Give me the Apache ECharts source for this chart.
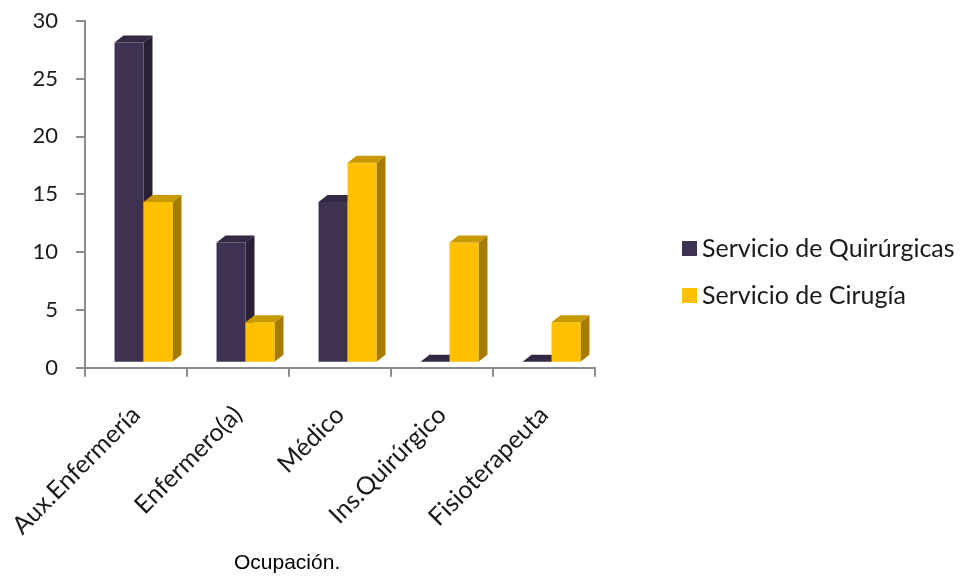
<!DOCTYPE html>
<html>
<head>
<meta charset="utf-8">
<script src="https://cdn.jsdelivr.net/npm/echarts@6/dist/echarts.min.js"></script>
<style>
  html, body { margin: 0; padding: 0; background: #ffffff; }
  #chart { width: 962px; height: 577px; }
</style>
</head>
<body>
<div id="chart"></div>
<script>
// Occupation categories and the share (%) per service
const categories = ['Aux.Enfermería', 'Enfermero(a)', 'Médico', 'Ins.Quirúrgico', 'Fisioterapeuta'];
const quirurgicas = [27.6, 10.3, 13.8, 0, 0];
const cirugia = [13.8, 3.4, 17.2, 10.3, 3.4];
const seriesNames = ['Servicio de Quirúrgicas', 'Servicio de Cirugía'];
const yTicks = { min: 0, max: 30, interval: 5 };

// Face colours for the pseudo-3D columns: front, side, top
const palettes = [
  { front: '#3f3151', side: '#2a2036', top: '#342943' },
  { front: '#ffc000', side: '#a67c00', top: '#c99a00' }
];

const DEPTH_X = 9;   // horizontal depth of a column
const DEPTH_Y = 7;   // vertical depth of a column
const LIFT = 6;      // columns stand slightly above the axis line
const SHIFT = 7.5;   // pair offset inside the category band
const WIDTH_FRAC = 0.284;

function columnRenderer(seriesIdx) {
  return function (params, api) {
    const i = api.value(0);
    const v = api.value(1);
    const base = api.coord([i, 0]);
    const top = api.coord([i, v]);
    const w = api.size([1, 0])[0] * WIDTH_FRAC;
    const cx = base[0] + SHIFT;
    const x0 = seriesIdx === 0 ? cx - w : cx;
    const x1 = x0 + w;
    const yb = base[1] - LIFT;
    const yt = top[1] - LIFT;
    const pal = palettes[seriesIdx];
    return {
      type: 'group',
      children: [
        {
          type: 'polygon',
          shape: { points: [[x1, yt], [x1 + DEPTH_X, yt - DEPTH_Y], [x1 + DEPTH_X, yb - DEPTH_Y], [x1, yb]] },
          style: { fill: pal.side }
        },
        {
          type: 'rect',
          shape: { x: x0, y: yt, width: w, height: yb - yt },
          style: { fill: pal.front }
        },
        {
          type: 'polygon',
          shape: { points: [[x0, yt], [x0 + DEPTH_X, yt - DEPTH_Y], [x1 + DEPTH_X, yt - DEPTH_Y], [x1, yt]] },
          style: { fill: pal.top }
        }
      ]
    };
  };
}

const chart = echarts.init(document.getElementById('chart'), null, { renderer: 'canvas' });

chart.setOption({
  animation: false,
  backgroundColor: '#ffffff',
  textStyle: { fontFamily: 'Lato' },
  title: {
    text: 'Ocupación.',
    left: 234,
    top: 553,
    padding: 0,
    textStyle: { fontFamily: 'Liberation Sans', fontSize: 21, fontWeight: 'normal', color: '#000000' }
  },
  grid: { left: 85, right: 367, top: 20.7, bottom: 209.3, containLabel: false },
  legend: {
    orient: 'vertical',
    left: 677,
    top: 231,
    itemGap: 22,
    itemWidth: 15,
    itemHeight: 15,
    icon: 'rect',
    textStyle: { fontFamily: 'Lato', fontSize: 25, color: '#1a1a1a' },
    data: seriesNames
  },
  xAxis: {
    type: 'category',
    data: categories,
    axisLine: { lineStyle: { color: '#8c8c8c', width: 2 } },
    axisTick: { show: true, length: 9, lineStyle: { color: '#8c8c8c', width: 2 } },
    axisLabel: { rotate: 45, fontSize: 25, color: '#1a1a1a', margin: 43, interval: 0, fontFamily: 'Lato' },
    splitLine: { show: false }
  },
  yAxis: {
    type: 'value',
    min: yTicks.min,
    max: yTicks.max,
    interval: yTicks.interval,
    axisLine: { show: true, lineStyle: { color: '#8c8c8c', width: 2 } },
    axisTick: { show: true, length: 9, lineStyle: { color: '#8c8c8c', width: 2 } },
    axisLabel: { fontSize: 22, color: '#1a1a1a', margin: 27, fontFamily: 'Lato' },
    splitLine: { show: false }
  },
  series: [
    {
      name: seriesNames[0],
      type: 'custom',
      renderItem: columnRenderer(0),
      itemStyle: { color: palettes[0].front },
      encode: { x: 0, y: 1 },
      data: quirurgicas.map((v, i) => [i, v]),
      z: 2
    },
    {
      name: seriesNames[1],
      type: 'custom',
      renderItem: columnRenderer(1),
      itemStyle: { color: palettes[1].front },
      encode: { x: 0, y: 1 },
      data: cirugia.map((v, i) => [i, v]),
      z: 3
    }
  ]
});
</script>
</body>
</html>
